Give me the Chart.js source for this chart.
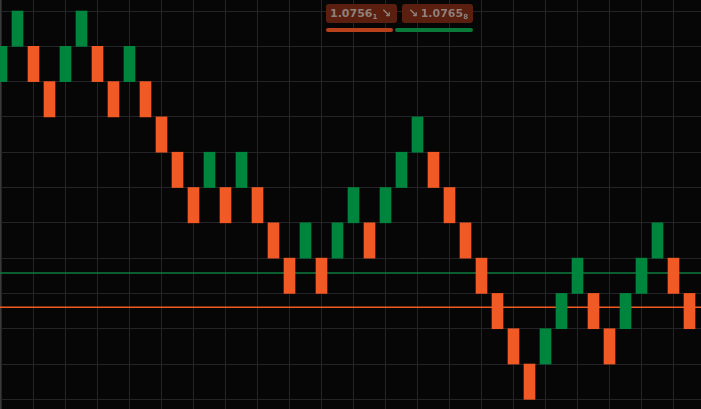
<!DOCTYPE html>
<html>
<head>
<meta charset="utf-8">
<script src="https://cdn.jsdelivr.net/npm/chart.js@4.4.1/dist/chart.umd.min.js"></script>
<style>
  html, body { margin: 0; padding: 0; background: #060606; }
  #wrap { position: relative; width: 701px; height: 409px; }
  canvas { display: block; }
  .tag {
    position: absolute; top: 4px; height: 19px; width: 71px;
    background: #5a1f0e; border-radius: 3px;
    color: #8f807b; font: bold 11px "DejaVu Sans", sans-serif;
    line-height: 19px; box-sizing: border-box;
  }
  .tag sub { font-size: 7px; vertical-align: -2px; }
  .tag .ico { position: absolute; top: 0; font-size: 12px; }
  .bar { position: absolute; top: 28px; height: 4px; border-radius: 2px; }
</style>
</head>
<body>
<div id="wrap">
  <canvas id="grafico" width="701" height="409"></canvas>
  <div class="tag" style="left:326px; padding-left:4px;">1.0756<sub>1</sub><span class="ico" style="right:6px;">↘</span></div>
  <div class="tag" style="left:402px; text-align:right; padding-right:5px;"><span class="ico" style="left:6px;">↘</span>1.0765<sub>8</sub></div>
  <div class="bar" style="left:326px; width:67px; background:#b8401a;"></div>
  <div class="bar" style="left:395px; width:78px; background:#0a7a3a;"></div>
</div>
<script>
// Datos del renko (precio inferior de cada ladrillo y su direccion)
const tamLadrillo = 0.001;
const ladrilloBajo = [
  1.082, 1.083, 1.082, 1.081, 1.082, 1.083, 1.082, 1.081, 1.082, 1.081,
  1.080, 1.079, 1.078, 1.079, 1.078, 1.079, 1.078, 1.077, 1.076, 1.077,
  1.076, 1.077, 1.078, 1.077, 1.078, 1.079, 1.080, 1.079, 1.078, 1.077,
  1.076, 1.075, 1.074, 1.073, 1.074, 1.075, 1.076, 1.075, 1.074, 1.075,
  1.076, 1.077, 1.076, 1.075
];
const direccion = [
  1, 1, -1, -1, 1, 1, -1, -1, 1, -1,
  -1, -1, -1, 1, -1, 1, -1, -1, -1, 1,
  -1, 1, 1, -1, 1, 1, 1, -1, -1, -1,
  -1, -1, -1, -1, 1, 1, 1, -1, -1, 1,
  1, 1, -1, -1
];
// Lineas de precio
const precioBid = 1.07561;
const precioAsk = 1.07658;

const VERDE = '#00853e';
const NARANJA = '#f15a24';

const ladrillos = ladrilloBajo.map((b, i) => ({ x: i, y: [b, b + tamLadrillo] }));
const colores = direccion.map(d => d > 0 ? VERDE : NARANJA);

const xMin = -0.09375, xMax = 43.71875;

const ctx = document.getElementById('grafico').getContext('2d');
new Chart(ctx, {
  type: 'bar',
  data: {
    datasets: [
      {
        data: ladrillos,
        backgroundColor: colores,
        borderWidth: 0,
        barThickness: 11,
        order: 1
      },
      {
        type: 'line',
        data: [{ x: xMin, y: precioAsk }, { x: xMax, y: precioAsk }],
        borderColor: '#0e7a3c',
        borderWidth: 1.5,
        pointRadius: 0,
        order: 2
      },
      {
        type: 'line',
        data: [{ x: xMin, y: precioBid }, { x: xMax, y: precioBid }],
        borderColor: '#f25a22',
        borderWidth: 1.5,
        pointRadius: 0,
        order: 2
      }
    ]
  },
  options: {
    responsive: false,
    animation: false,
    layout: { padding: 0 },
    plugins: { legend: { display: false }, tooltip: { enabled: false } },
    scales: {
      x: {
        type: 'linear',
        offset: false,
        min: xMin,
        max: xMax,
        ticks: { display: false, stepSize: 2, includeBounds: false },
        grid: { color: '#232328', drawTicks: false, offset: false },
        border: { display: false }
      },
      y: {
        min: 1.072726,
        max: 1.084312,
        ticks: { display: false, stepSize: 0.001, includeBounds: false },
        grid: { color: '#232328', drawTicks: false },
        border: { display: true, color: '#3a3a3a', width: 2 }
      }
    }
  }
});
</script>
</body>
</html>
